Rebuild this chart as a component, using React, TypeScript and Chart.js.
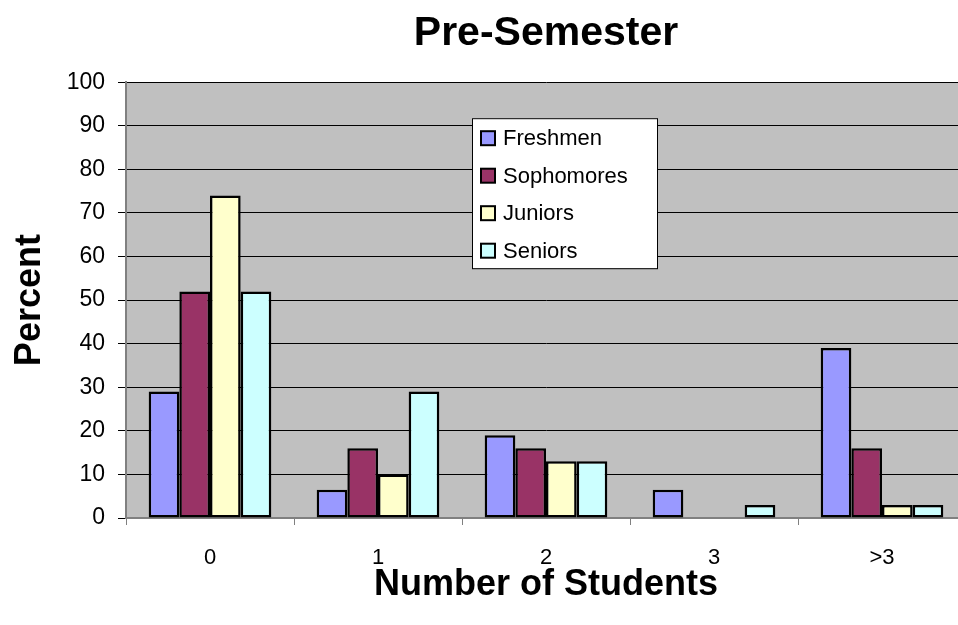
import React, { useEffect, useRef } from "react";
import { Chart, registerables } from "chart.js";

Chart.register(...registerables);

const categories = ["0", "1", "2", "3", ">3"];
const freshmen = [29, 6.5, 19, 6.5, 39];
const sophomores = [52, 16, 16, 0, 16];
const juniors = [74, 10, 13, 0, 3];
const seniors = [52, 29, 13, 3, 3];
const seriesNames = ["Freshmen", "Sophomores", "Juniors", "Seniors"];
const seriesColors = ["#9999FF", "#993366", "#FFFFCC", "#CCFFFF"];
const yTicks = [0, 10, 20, 30, 40, 50, 60, 70, 80, 90, 100];

const FONT = "Arial, 'Liberation Sans', Helvetica, sans-serif";

const plotBg = {
  id: "plotBg",
  beforeDraw(chart: any) {
    const { ctx, chartArea } = chart;
    if (!chartArea) return;
    ctx.save();
    ctx.fillStyle = "#C0C0C0";
    ctx.fillRect(chartArea.left, chartArea.top, chartArea.right - chartArea.left, chartArea.bottom - chartArea.top);
    ctx.restore();
  },
};

const boxLegend = {
  id: "boxLegend",
  afterDraw(chart: any) {
    const { ctx, chartArea } = chart;
    const x0 = chartArea.left + 346;
    const y0 = chartArea.top + 36;
    const w = 185;
    const h = 150;
    ctx.save();
    ctx.fillStyle = "#FFFFFF";
    ctx.fillRect(x0, y0, w, h);
    ctx.strokeStyle = "#000000";
    ctx.lineWidth = 1;
    ctx.strokeRect(x0 + 0.5, y0 + 0.5, w, h);
    ctx.font = `22px ${FONT}`;
    ctx.textBaseline = "middle";
    ctx.textAlign = "left";
    chart.data.datasets.forEach((ds: any, i: number) => {
      const cy = y0 + 20 + i * 37.5;
      ctx.fillStyle = ds.backgroundColor;
      ctx.fillRect(x0 + 9, cy - 7, 14, 14);
      ctx.lineWidth = 2;
      ctx.strokeStyle = "#000000";
      ctx.strokeRect(x0 + 9, cy - 7, 14, 14);
      ctx.fillStyle = "#000000";
      ctx.fillText(ds.label, x0 + 31, cy + 1);
    });
    ctx.restore();
  },
};

export default function App() {
  const ref = useRef<HTMLCanvasElement | null>(null);
  useEffect(() => {
    if (!ref.current) return;
    const seriesData = [freshmen, sophomores, juniors, seniors];
    const chart = new Chart(ref.current, {
      type: "bar",
      data: {
        labels: categories,
        datasets: seriesNames.map((name, i) => ({
          label: name,
          data: seriesData[i],
          backgroundColor: seriesColors[i],
          borderColor: "#000000",
          borderWidth: 2.5,
          borderSkipped: false,
          categoryPercentage: 0.73,
          barPercentage: 1.0,
        })),
      },
      options: {
        animation: false,
        responsive: true,
        maintainAspectRatio: false,
        layout: { padding: { left: 0, right: 0, top: 0, bottom: 0 } },
        plugins: {
          legend: { display: false },
          tooltip: { enabled: false },
          title: {
            display: true,
            text: "Pre-Semester",
            fullSize: false,
            color: "#000000",
            font: { family: FONT, size: 41, weight: "bold", lineHeight: 1.2 },
            padding: { top: 9, bottom: 24 },
          },
        },
        scales: {
          x: {
            type: "category",
            grid: {
              display: true,
              drawOnChartArea: false,
              offset: true,
              tickLength: 7,
              color: "#808080",
            },
            border: { display: true, color: "#808080", width: 2 },
            ticks: {
              color: "#000000",
              font: { family: FONT, size: 22 },
              padding: 20,
              maxRotation: 0,
            },
            title: {
              display: true,
              text: "Number of Students",
              color: "#000000",
              font: { family: FONT, size: 36, weight: "bold", lineHeight: 1.2 },
              padding: { top: 0, bottom: 18 },
            },
            afterFit(scale: any) {
              scale.height = 107;
            },
          },
          y: {
            min: 0,
            max: 100,
            afterBuildTicks(scale: any) {
              scale.ticks = yTicks.map((v) => ({ value: v }));
            },
            grid: {
              display: true,
              color: "#000000",
              lineWidth: 1,
              tickLength: 8,
              tickColor: "#000000",
            },
            border: { display: true, color: "#808080", width: 2 },
            ticks: {
              color: "#000000",
              font: { family: FONT, size: 23 },
              padding: 13,
            },
            title: {
              display: true,
              text: "Percent",
              color: "#000000",
              font: { family: FONT, size: 36, weight: "bold", lineHeight: 1.2 },
              padding: { top: 8, bottom: 0 },
            },
            afterFit(scale: any) {
              scale.width = 126;
            },
          },
        },
      },
      plugins: [plotBg, boxLegend],
    });
    return () => chart.destroy();
  }, []);

  return (
    <div style={{ position: "fixed", left: 0, top: 0, width: 966, height: 625, background: "#FFFFFF" }}>
      <canvas ref={ref} />
    </div>
  );
}
